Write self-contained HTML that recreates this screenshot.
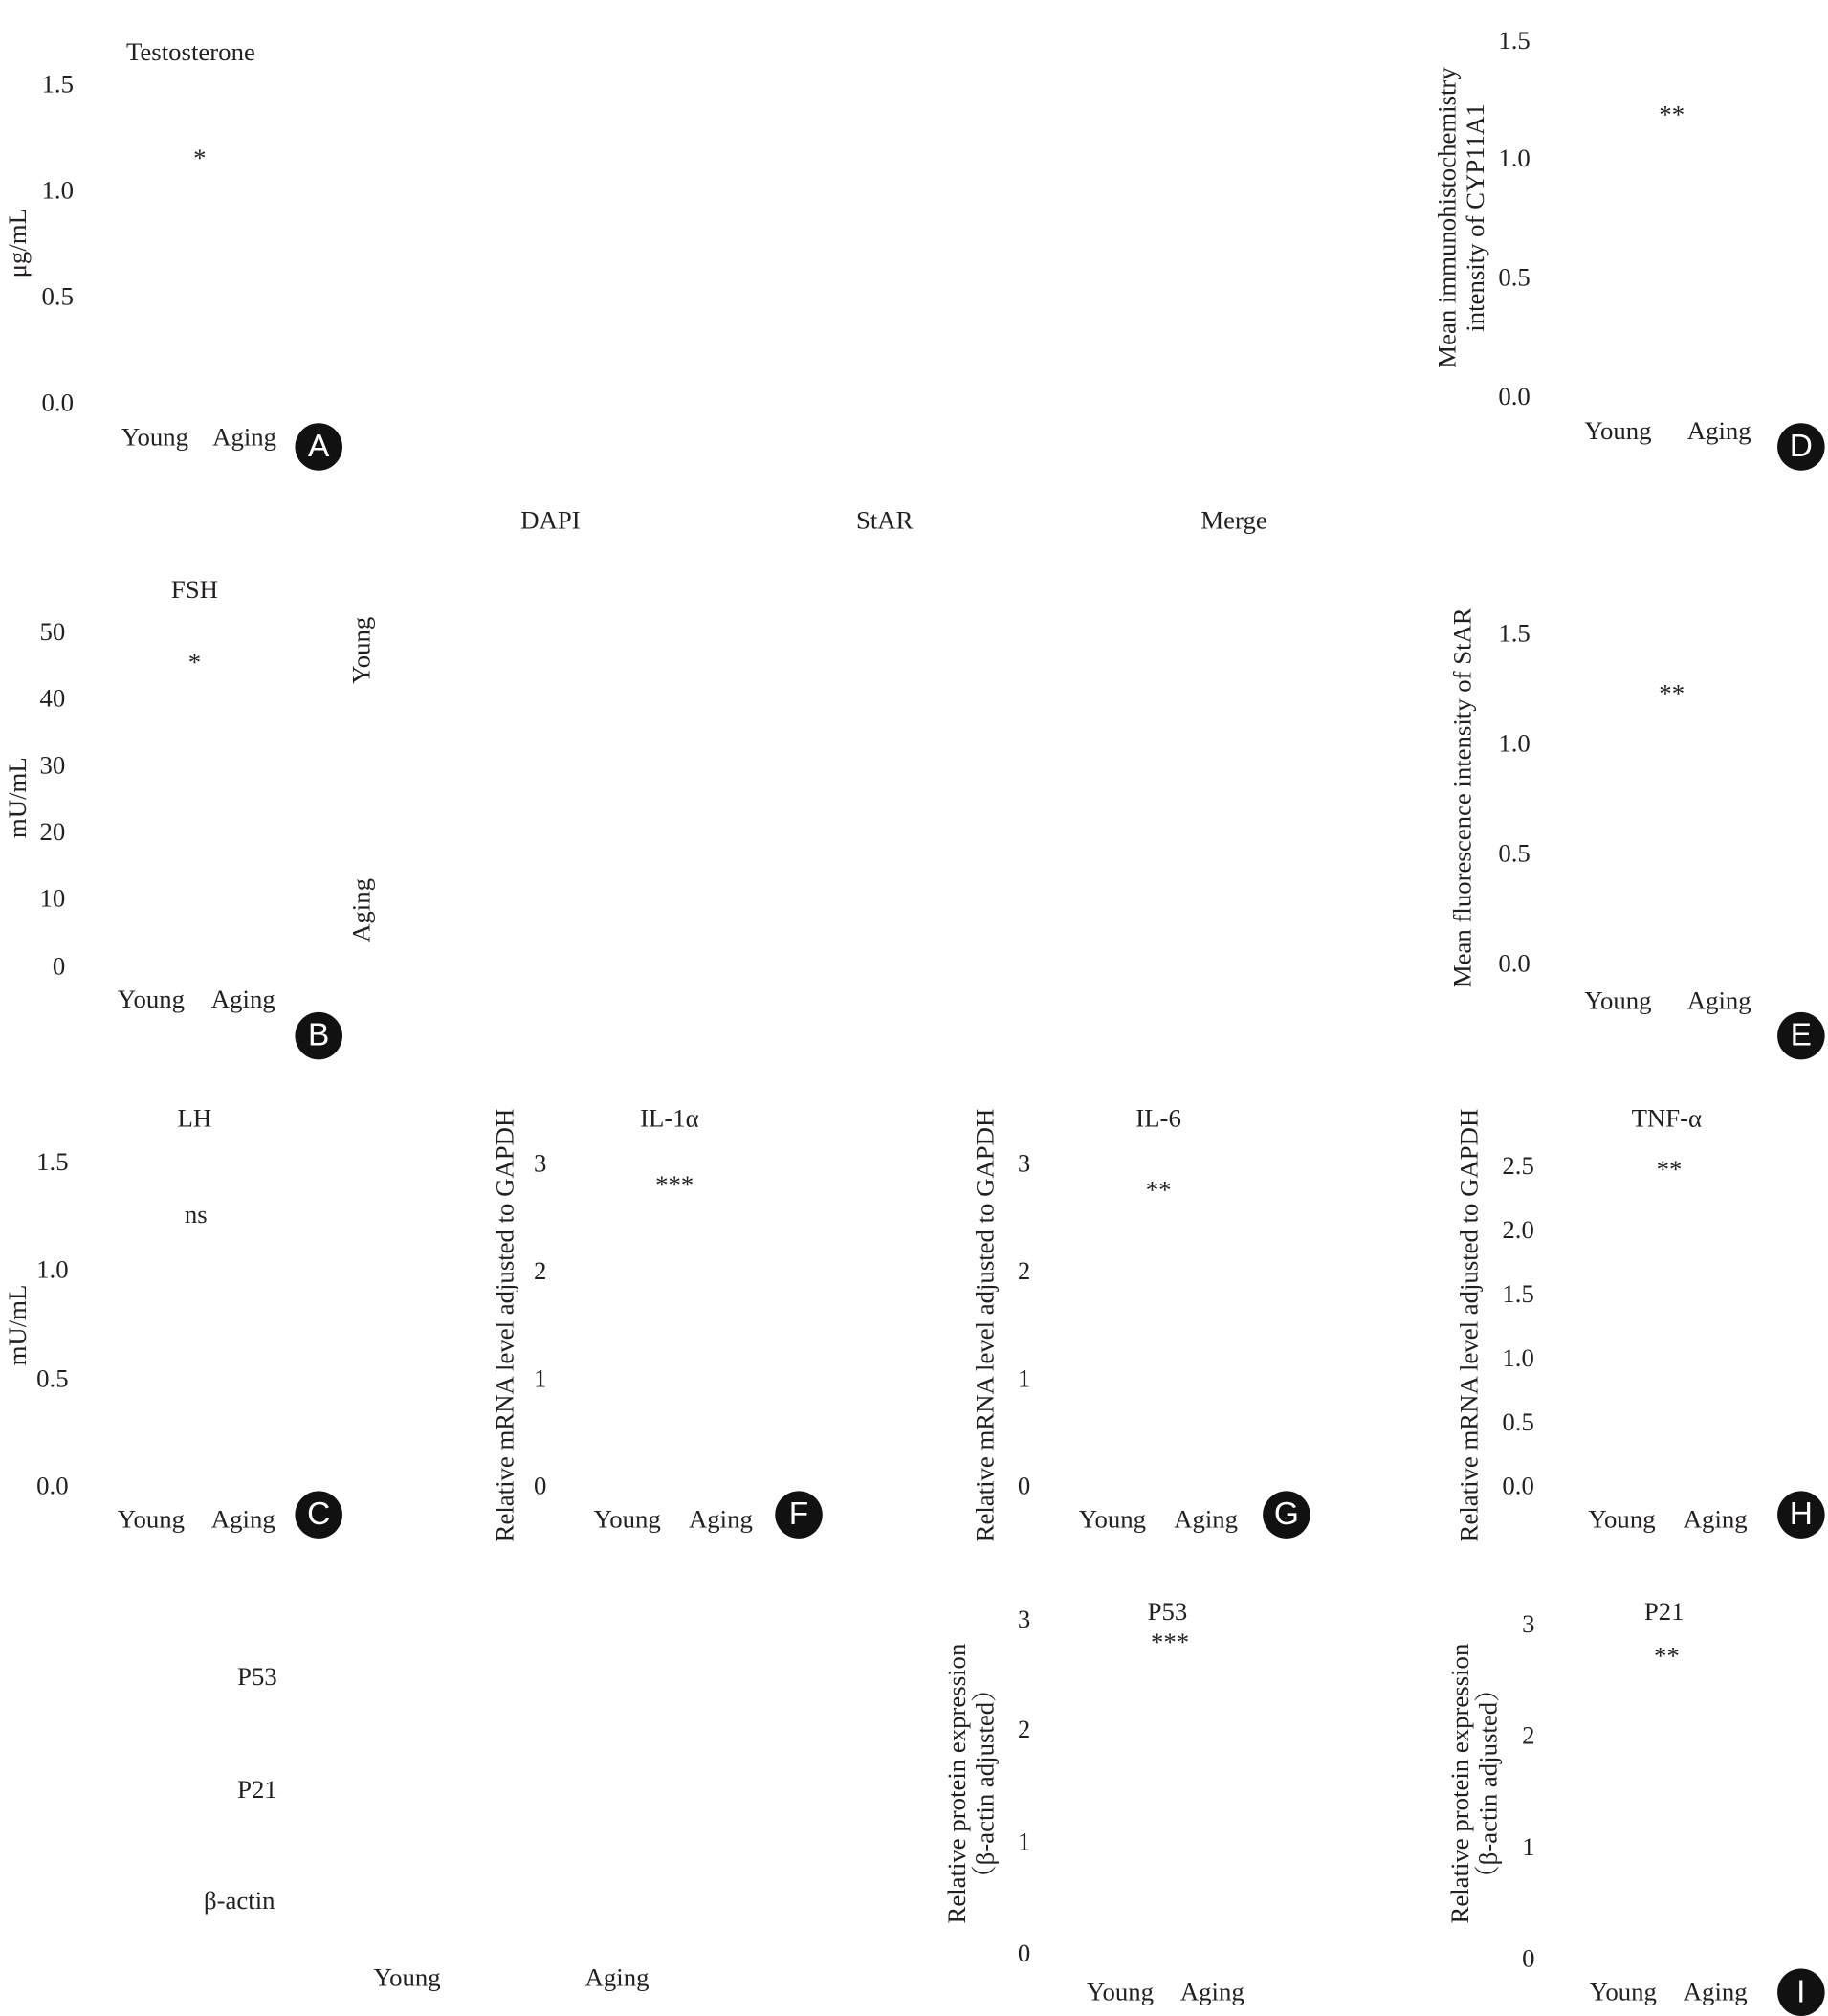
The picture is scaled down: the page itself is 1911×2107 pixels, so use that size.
<!DOCTYPE html>
<html><head><meta charset="utf-8">
<style>
html,body{margin:0;padding:0;background:#fff;}
body{width:1911px;height:2098px;overflow:hidden;position:relative;}
#c{position:absolute;left:0;top:4px;width:1428px;height:1568px;transform:scale(1.3382);transform-origin:0 0;font-family:"Liberation Serif","Noto Serif CJK SC",serif;color:#231f20;}
.t{position:absolute;white-space:nowrap;font-size:20px;line-height:1;transform:translate(-50%,-50%);}
.r{position:absolute;white-space:nowrap;font-size:20px;line-height:1.1;text-align:center;transform:translate(-50%,-50%) rotate(-90deg);}
.k{position:absolute;width:37px;height:37px;border-radius:50%;background:#111;color:#fff;font-family:"Liberation Sans",sans-serif;font-size:25px;line-height:37px;text-align:center;transform:translate(-50%,-50%);}
</style></head><body><div id="c">
<!-- A -->
<div class="t" style="left:149px;top:38px">Testosterone</div>
<div class="t" style="left:45px;top:63px">1.5</div>
<div class="t" style="left:45px;top:146px">1.0</div>
<div class="t" style="left:45px;top:229px">0.5</div>
<div class="t" style="left:45px;top:312px">0.0</div>
<div class="r" style="left:14px;top:187px">μg/mL</div>
<div class="t" style="left:156px;top:121px">*</div>
<div class="t" style="left:121px;top:339px">Young</div>
<div class="t" style="left:191px;top:339px">Aging</div>
<div class="k" style="left:249px;top:346px">A</div>
<!-- D -->
<div class="t" style="left:1183px;top:29px">1.5</div>
<div class="t" style="left:1183px;top:121px">1.0</div>
<div class="t" style="left:1183px;top:214px">0.5</div>
<div class="t" style="left:1183px;top:307px">0.0</div>
<div class="r" style="left:1142px;top:167px">Mean immunohistochemistry<br>intensity of CYP11A1</div>
<div class="t" style="left:1306px;top:87px">**</div>
<div class="t" style="left:1264px;top:334px">Young</div>
<div class="t" style="left:1343px;top:334px">Aging</div>
<div class="k" style="left:1407px;top:346px">D</div>
<!-- header -->
<div class="t" style="left:430px;top:404px">DAPI</div>
<div class="t" style="left:691px;top:404px">StAR</div>
<div class="t" style="left:964px;top:404px">Merge</div>
<!-- B -->
<div class="t" style="left:152px;top:458px">FSH</div>
<div class="t" style="left:41px;top:491px">50</div>
<div class="t" style="left:41px;top:543px">40</div>
<div class="t" style="left:41px;top:595px">30</div>
<div class="t" style="left:41px;top:647px">20</div>
<div class="t" style="left:41px;top:699px">10</div>
<div class="t" style="left:46px;top:752px">0</div>
<div class="r" style="left:14px;top:620px">mU/mL</div>
<div class="t" style="left:152px;top:515px">*</div>
<div class="t" style="left:118px;top:778px">Young</div>
<div class="t" style="left:190px;top:778px">Aging</div>
<div class="k" style="left:249px;top:806px">B</div>
<div class="r" style="left:283px;top:505px">Young</div>
<div class="r" style="left:283px;top:708px">Aging</div>
<!-- E -->
<div class="t" style="left:1183px;top:492px">1.5</div>
<div class="t" style="left:1183px;top:578px">1.0</div>
<div class="t" style="left:1183px;top:664px">0.5</div>
<div class="t" style="left:1183px;top:750px">0.0</div>
<div class="r" style="left:1143px;top:620px">Mean fluorescence intensity of StAR</div>
<div class="t" style="left:1306px;top:539px">**</div>
<div class="t" style="left:1264px;top:779px">Young</div>
<div class="t" style="left:1343px;top:779px">Aging</div>
<div class="k" style="left:1407px;top:806px">E</div>
<!-- C -->
<div class="t" style="left:152px;top:871px">LH</div>
<div class="t" style="left:41px;top:905px">1.5</div>
<div class="t" style="left:41px;top:989px">1.0</div>
<div class="t" style="left:41px;top:1074px">0.5</div>
<div class="t" style="left:41px;top:1158px">0.0</div>
<div class="r" style="left:14px;top:1032px">mU/mL</div>
<div class="t" style="left:153px;top:946px">ns</div>
<div class="t" style="left:118px;top:1184px">Young</div>
<div class="t" style="left:190px;top:1184px">Aging</div>
<div class="k" style="left:249px;top:1180px">C</div>
<!-- F -->
<div class="r" style="left:395px;top:1032px">Relative mRNA level adjusted to GAPDH</div>
<div class="t" style="left:422px;top:906px">3</div>
<div class="t" style="left:422px;top:990px">2</div>
<div class="t" style="left:422px;top:1074px">1</div>
<div class="t" style="left:422px;top:1158px">0</div>
<div class="t" style="left:523px;top:871px">IL-1α</div>
<div class="t" style="left:527px;top:923px">***</div>
<div class="t" style="left:490px;top:1184px">Young</div>
<div class="t" style="left:563px;top:1184px">Aging</div>
<div class="k" style="left:624px;top:1180px">F</div>
<!-- G -->
<div class="r" style="left:770px;top:1032px">Relative mRNA level adjusted to GAPDH</div>
<div class="t" style="left:800px;top:906px">3</div>
<div class="t" style="left:800px;top:990px">2</div>
<div class="t" style="left:800px;top:1074px">1</div>
<div class="t" style="left:800px;top:1158px">0</div>
<div class="t" style="left:905px;top:871px">IL-6</div>
<div class="t" style="left:905px;top:927px">**</div>
<div class="t" style="left:869px;top:1184px">Young</div>
<div class="t" style="left:942px;top:1184px">Aging</div>
<div class="k" style="left:1005px;top:1180px">G</div>
<!-- H -->
<div class="r" style="left:1148px;top:1032px">Relative mRNA level adjusted to GAPDH</div>
<div class="t" style="left:1186px;top:908px">2.5</div>
<div class="t" style="left:1186px;top:958px">2.0</div>
<div class="t" style="left:1186px;top:1008px">1.5</div>
<div class="t" style="left:1186px;top:1058px">1.0</div>
<div class="t" style="left:1186px;top:1108px">0.5</div>
<div class="t" style="left:1186px;top:1158px">0.0</div>
<div class="t" style="left:1302px;top:871px">TNF-α</div>
<div class="t" style="left:1304px;top:911px">**</div>
<div class="t" style="left:1267px;top:1184px">Young</div>
<div class="t" style="left:1340px;top:1184px">Aging</div>
<div class="k" style="left:1407px;top:1180px">H</div>
<!-- Western blot labels -->
<div class="t" style="left:201px;top:1307px">P53</div>
<div class="t" style="left:201px;top:1395px">P21</div>
<div class="t" style="left:187px;top:1482px">β-actin</div>
<div class="t" style="left:318px;top:1542px">Young</div>
<div class="t" style="left:482px;top:1542px">Aging</div>
<!-- P53 chart -->
<div class="r" style="left:759px;top:1390px">Relative protein expression<br>（β-actin adjusted）</div>
<div class="t" style="left:800px;top:1262px">3</div>
<div class="t" style="left:800px;top:1348px">2</div>
<div class="t" style="left:800px;top:1436px">1</div>
<div class="t" style="left:800px;top:1523px">0</div>
<div class="t" style="left:912px;top:1256px">P53</div>
<div class="t" style="left:914px;top:1280px">***</div>
<div class="t" style="left:875px;top:1553px">Young</div>
<div class="t" style="left:947px;top:1553px">Aging</div>
<!-- P21 chart -->
<div class="r" style="left:1152px;top:1390px">Relative protein expression<br>（β-actin adjusted）</div>
<div class="t" style="left:1194px;top:1266px">3</div>
<div class="t" style="left:1194px;top:1353px">2</div>
<div class="t" style="left:1194px;top:1440px">1</div>
<div class="t" style="left:1194px;top:1527px">0</div>
<div class="t" style="left:1300px;top:1256px">P21</div>
<div class="t" style="left:1302px;top:1291px">**</div>
<div class="t" style="left:1268px;top:1553px">Young</div>
<div class="t" style="left:1340px;top:1553px">Aging</div>
<div class="k" style="left:1407px;top:1553px">I</div>
</div></body></html>
